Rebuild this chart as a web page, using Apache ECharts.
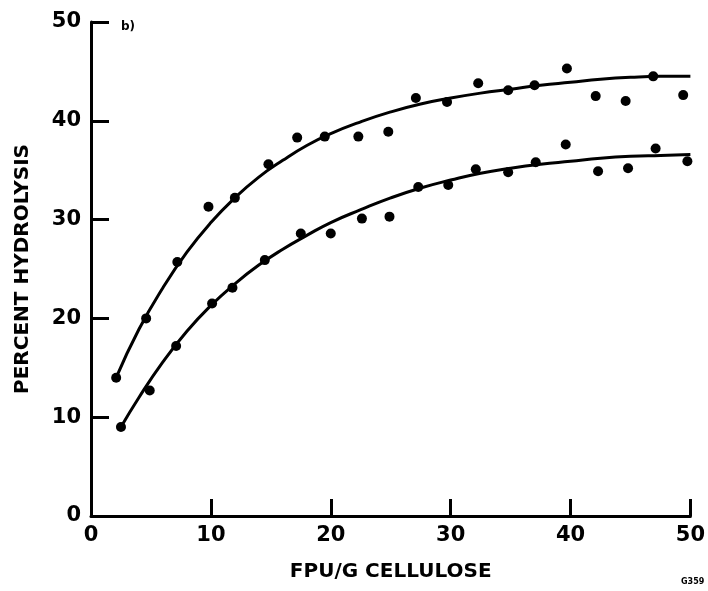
<!DOCTYPE html>
<html>
<head>
<meta charset="utf-8">
<script src="https://cdn.jsdelivr.net/npm/echarts@6/dist/echarts.min.js"></script>
<style>
html,body{margin:0;padding:0;background:#fff;}
#chart{width:708px;height:591px;}
</style>
</head>
<body>
<div id="chart"></div>
<script>
// Upper data set (circles)
const upperX = [2.1, 4.6, 7.2, 9.8, 12.0, 14.8, 17.2, 19.5, 22.3, 24.8, 27.1, 29.7, 32.3, 34.8, 37.0, 39.7, 42.1, 44.6, 46.9, 49.4];
const upperY = [14.0, 20.0, 25.7, 31.3, 32.2, 35.6, 38.3, 38.4, 38.4, 38.9, 42.3, 41.9, 43.8, 43.1, 43.6, 45.3, 42.5, 42.0, 44.5, 42.6];
// Lower data set
const lowerX = [2.5, 4.9, 7.1, 10.1, 11.8, 14.5, 17.5, 20.0, 22.6, 24.9, 27.3, 29.8, 32.1, 34.8, 37.1, 39.6, 42.3, 44.8, 47.1, 49.75];
const lowerY = [9.0, 12.7, 17.2, 21.5, 23.1, 25.9, 28.6, 28.6, 30.1, 30.3, 33.3, 33.5, 35.1, 34.8, 35.8, 37.6, 34.9, 35.2, 37.2, 35.9];
// Fitted curves
const upperCurveX = [2.1, 4, 6, 8, 10, 12, 14, 16, 18, 20, 22.5, 25, 27.5, 30, 32.5, 35, 37.5, 40, 42.5, 45, 47.5, 50];
const upperCurveY = [14.0, 18.9, 23.1, 26.7, 29.7, 32.2, 34.3, 36.0, 37.5, 38.7, 39.9, 40.9, 41.7, 42.3, 42.8, 43.2, 43.6, 43.9, 44.2, 44.4, 44.5, 44.5];
const lowerCurveX = [2.5, 4, 6, 8, 10, 12, 14, 16, 18, 20, 22.5, 25, 27.5, 30, 32.5, 35, 37.5, 40, 42.5, 45, 47.5, 50];
const lowerCurveY = [9.0, 12.0, 15.6, 18.7, 21.3, 23.5, 25.4, 27.0, 28.4, 29.7, 31.0, 32.2, 33.2, 34.0, 34.7, 35.2, 35.6, 35.9, 36.2, 36.4, 36.5, 36.6];
const xTicks = [0, 10, 20, 30, 40, 50];
const yTicks = [0, 10, 20, 30, 40, 50];

const pair = (xs, ys) => xs.map((x, i) => [x, ys[i]]);
const FONT = 'DejaVu Sans';
const chart = echarts.init(document.getElementById('chart'), null, {renderer: 'canvas'});
chart.setOption({
  animation: false,
  backgroundColor: '#fff',
  grid: {left: 91, right: 15, top: 22, bottom: 75},
  xAxis: {
    type: 'value', min: xTicks[0], max: xTicks[xTicks.length - 1], interval: 10,
    name: 'FPU/G CELLULOSE', nameLocation: 'middle', nameGap: 46,
    nameTextStyle: {fontFamily: FONT, fontWeight: 'bold', fontSize: 20, color: '#000'},
    axisLine: {lineStyle: {color: '#000', width: 3}},
    axisTick: {inside: true, length: 17, lineStyle: {color: '#000', width: 3}},
    axisLabel: {margin: 9, fontFamily: FONT, fontWeight: 'bold', fontSize: 21, color: '#000'},
    splitLine: {show: false}
  },
  yAxis: {
    type: 'value', min: yTicks[0], max: yTicks[yTicks.length - 1], interval: 10,
    name: 'PERCENT HYDROLYSIS', nameLocation: 'middle', nameGap: 58,
    nameTextStyle: {fontFamily: FONT, fontWeight: 'bold', fontSize: 20, color: '#000'},
    axisLine: {lineStyle: {color: '#000', width: 3}},
    axisTick: {inside: true, length: 18, lineStyle: {color: '#000', width: 3}},
    axisLabel: {margin: 10, fontFamily: FONT, fontWeight: 'bold', fontSize: 21, color: '#000'},
    splitLine: {show: false}
  },
  series: [
    {type: 'line', data: pair(upperCurveX, upperCurveY), smooth: true, showSymbol: false, symbol: 'none',
     lineStyle: {color: '#000', width: 3}, z: 2},
    {type: 'line', data: pair(lowerCurveX, lowerCurveY), smooth: true, showSymbol: false, symbol: 'none',
     lineStyle: {color: '#000', width: 3}, z: 2},
    {type: 'scatter', data: pair(upperX, upperY), symbol: 'circle', symbolSize: 10,
     itemStyle: {color: '#000', opacity: 1}, z: 3},
    {type: 'scatter', data: pair(lowerX, lowerY), symbol: 'circle', symbolSize: 10,
     itemStyle: {color: '#000', opacity: 1}, z: 3}
  ],
  graphic: [
    {type: 'text', left: 121, top: 21, style: {text: 'b)', fontFamily: FONT, fontWeight: 'bold', fontSize: 12, fill: '#000'}},
    {type: 'text', left: 681, top: 578, style: {text: 'G359', fontFamily: FONT, fontWeight: 'bold', fontSize: 8, fill: '#000'}}
  ]
});
</script>
</body>
</html>
